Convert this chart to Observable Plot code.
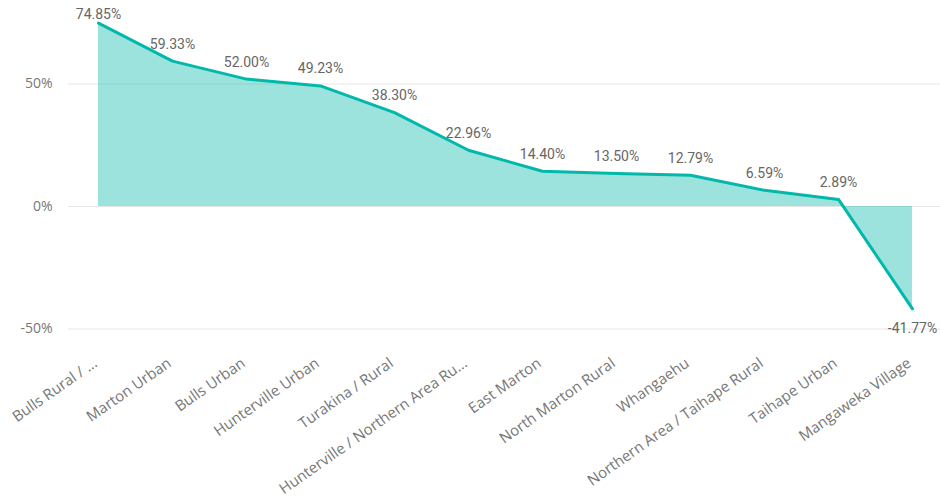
<!DOCTYPE html>
<html>
<head>
<meta charset="utf-8">
<script src="https://cdn.jsdelivr.net/npm/d3@7"></script>
<script src="https://cdn.jsdelivr.net/npm/@observablehq/plot@0.6"></script>
<style>
  html, body { margin: 0; padding: 0; background: #fff; }
  #chart svg { display: block; }
</style>
</head>
<body>
<div id="chart"></div>
<script>
const categories = [
  "Bulls Rural / ...",
  "Marton Urban",
  "Bulls Urban",
  "Hunterville Urban",
  "Turakina / Rural",
  "Hunterville / Northern Area Ru...",
  "East Marton",
  "North Marton Rural",
  "Whangaehu",
  "Northern Area / Taihape Rural",
  "Taihape Urban",
  "Mangaweka Village"
];
const values = [74.85, 59.33, 52.00, 49.23, 38.30, 22.96, 14.40, 13.50, 12.79, 6.59, 2.89, -41.77];
const yTicks = [-50, 0, 50];

const data = categories.map((c, i) => ({cat: c, value: values[i]}));
const fmt = v => v.toFixed(2) + "%";
const teal = "#01b8aa";
const axisFont = "'Open Sans', 'Noto Sans', sans-serif";
const labelFont = "Roboto, 'DejaVu Sans', sans-serif";

const chart = Plot.plot({
  width: 940,
  height: 496,
  marginLeft: 97,
  marginRight: 27,
  marginTop: 10,
  marginBottom: 143,
  style: {background: "white"},
  x: {type: "point", domain: categories, padding: 0},
  y: {domain: [-60, 80]},
  marks: [
    Plot.ruleY(yTicks, {stroke: "#e6e6e6", strokeWidth: 1, insetLeft: -29, insetRight: -27}),
    Plot.areaY(data, {x: "cat", y1: 0, y2: "value", fill: teal, fillOpacity: 0.39}),
    Plot.lineY(data, {x: "cat", y: "value", stroke: teal, strokeWidth: 3}),
    Plot.text(data.filter(d => d.value >= 0 && d.value < 70), {
      x: "cat", y: "value", text: d => fmt(d.value), dy: -17,
      fill: "#666", fontSize: 14, fontFamily: labelFont
    }),
    Plot.text(data.filter(d => d.value >= 70), {
      x: "cat", y: "value", text: d => fmt(d.value), dy: -9,
      fill: "#666", fontSize: 14, fontFamily: labelFont
    }),
    Plot.text(data.filter(d => d.value < 0), {
      x: "cat", y: "value", text: d => fmt(d.value), dy: 20,
      fill: "#666", fontSize: 14, fontFamily: labelFont
    }),
    Plot.axisY({
      ticks: yTicks, tickSize: 0, tickPadding: 45, label: null,
      tickFormat: d => d + "%", fill: "#777", fontSize: 14, fontFamily: axisFont
    }),
    Plot.axisX({
      tickSize: 0, tickPadding: 8, tickRotate: -35, label: null, dx: -3,
      fill: "#777", fontSize: 15, fontFamily: axisFont
    })
  ]
});
document.getElementById("chart").appendChild(chart);
</script>
</body>
</html>
